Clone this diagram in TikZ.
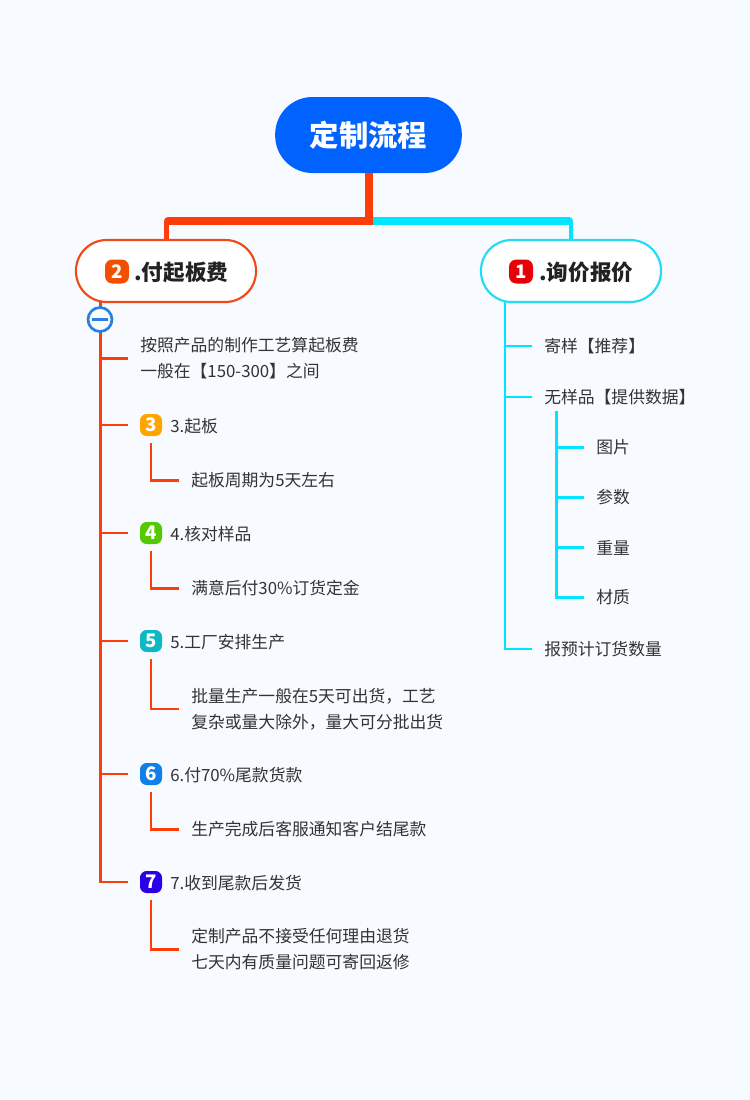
\documentclass[tikz,border=0pt]{standalone}
\usepackage{fontspec}
\setmainfont{Noto Sans CJK SC}
\definecolor{bgc}{HTML}{F7FBFF}
\definecolor{orc}{HTML}{FF3D0A}
\definecolor{oredge}{HTML}{F0481A}
\definecolor{cyc}{HTML}{00E5FF}
\definecolor{cyedge}{HTML}{1FDDF2}
\definecolor{rootc}{HTML}{0062FF}
\definecolor{txt}{HTML}{333333}
\definecolor{hd}{HTML}{222222}
\definecolor{colc}{HTML}{2B7FE0}
\definecolor{ba}{HTML}{E80008}
\definecolor{bb}{HTML}{F25000}
\definecolor{bc}{HTML}{FFA500}
\definecolor{bd}{HTML}{54C800}
\definecolor{be}{HTML}{0CB8C4}
\definecolor{bf}{HTML}{1080E8}
\definecolor{bg}{HTML}{2A00E8}
\tikzset{
  rootnode/.style={rectangle,rounded corners=28pt,minimum width=140pt,minimum height=57pt,fill=rootc,text=white,inner sep=0pt,font=\fontsize{22}{26}\selectfont\bfseries},
  mainnode/.style={rectangle,rounded corners=23pt,minimum width=135pt,minimum height=46.5pt,fill=white,draw=#1,line width=1.6pt,inner sep=0pt},
  hdtext/.style={anchor=west,inner sep=0pt,text=hd,font=\fontsize{16.2}{20}\selectfont\bfseries},
  badge/.style={rectangle,rounded corners=5pt,fill=#1,text=white,minimum size=16.5pt,inner sep=0pt,outer xsep=9pt,outer ysep=5.5pt,font=\fontsize{14}{16}\selectfont\bfseries},
  bigbadge/.style={rectangle,rounded corners=5.5pt,fill=#1,text=white,minimum size=18pt,inner sep=0pt,font=\fontsize{14}{16}\selectfont\bfseries},
  leaf/.style={anchor=west,inner ysep=0pt,inner xsep=9pt,align=left,text=txt,font=\fontsize{12.6}{19.5}\selectfont},
  sublabel/.style={anchor=west,inner sep=0pt,text=txt,font=\fontsize{12.6}{19.5}\selectfont},
  orline/.style={draw=orc,line width=2.1pt},
  cyline/.style={draw=cyc,line width=2.1pt},
  collapse/.style={circle,draw=colc,line width=2pt,fill=bgc,minimum size=18pt,inner sep=0pt}
}
\begin{document}
\begin{tikzpicture}[x=0.75pt,y=-0.75pt]
\fill[bgc] (0,0) rectangle (750,1100);
\useasboundingbox (0,0) rectangle (750,1100);
% main nodes
\node[rootnode] (root) at (368.5,135) {定制流程};
\coordinate (jun) at (369,221);
\coordinate (lt) at (100.5,302);
\coordinate (rt) at (505,302);
\coordinate (st) at (556.5,411);
% leaves left
\node[leaf] (l0) at (128,358.5) {按照产品的制作工艺算起板费\\一般在【150-300】之间};
\node[badge=bc] (b3) at (151,425) {3};
\node[badge=bd] (b4) at (151,533) {4};
\node[badge=be] (b5) at (151,641) {5};
\node[badge=bf] (b6) at (151,774) {6};
\node[badge=bg] (b7) at (151,882) {7};
\node[sublabel] (t3) at (170,426) {3.起板};
\node[sublabel] (t4) at (170,534) {4.核对样品};
\node[sublabel] (t5) at (170,642) {5.工厂安排生产};
\node[sublabel] (t6) at (170,775) {6.付70\%尾款货款};
\node[sublabel] (t7) at (170,883) {7.收到尾款后发货};
\node[leaf] (l3) at (179,480.5) {起板周期为5天左右};
\node[leaf] (l4) at (179,588.5) {满意后付30\%订货定金};
\node[leaf] (l5) at (179,709) {批量生产一般在5天可出货，工艺\\复杂或量大除外，量大可分批出货};
\node[leaf] (l6) at (179,829.5) {生产完成后客服通知客户结尾款};
\node[leaf] (l7) at (179,949.5) {定制产品不接受任何理由退货\\七天内有质量问题可寄回返修};
% leaves right
\node[leaf] (r1) at (532,346) {寄样【推荐】};
\node[leaf] (r2) at (532,397) {无样品【提供数据】};
\node[leaf] (r3) at (532,649) {报预计订货数量};
\node[leaf] (s1) at (584,447.5) {图片};
\node[leaf] (s2) at (584,497.5) {参数};
\node[leaf] (s3) at (584,547.5) {重量};
\node[leaf] (s4) at (584,597.5) {材质};
% connectors to main nodes
\path (166,271) coordinate (c2) (571,271) coordinate (c1);
\draw[cyc,line width=6pt,line cap=round] (jun) -- (569,221);
\draw[orc,line width=6pt,line cap=round] (jun) -- (168,221);
\draw[orc,line width=3.8pt] (jun -| c2) ++(0.5,0) -- (166.5,245);
\draw[cyc,line width=3pt] (571,221) -- (571,245);
\draw[orc,line width=6pt] (root.south -| jun) -- (369,225);
% main boxes
\node[mainnode=oredge] (n2) at (c2) {};
\node[mainnode=cyedge] (n1) at (c1) {};
\node[bigbadge=bb] (b2) at (117,271.5) {2};
\node[bigbadge=ba] (b1) at (521,271.5) {1};
\node[hdtext] (h2) at (134,272.5) {.付起板费};
\node[hdtext] (h1) at (539,272.5) {.询价报价};
% left trunk
\draw[orline] (lt) |- (b7.west);
\draw[orline] (l0.west -| lt) -- (l0.west);
\foreach \b in {b3,b4,b5,b6} \draw[orline] (\b.west -| lt) -- (\b.west);
% elbows
\draw[orline] (b3.south) |- (l3.west);
\draw[orline] (b4.south) |- (l4.west);
\draw[orline] (b5.south) |- (l5.west);
\draw[orline] (b6.south) |- (l6.west);
\draw[orline] (b7.south) |- (l7.west);
% collapse control
\node[collapse] (col) at (100,319.5) {};
\draw[colc,line width=1.6pt] ([xshift=-6pt]col.center) -- ([xshift=6pt]col.center);
% right trunk
\draw[cyline] (rt) |- (r3.west);
\draw[cyline] (r1.west -| rt) -- (r1.west);
\draw[cyline] (r2.west -| rt) -- (r2.west);
\draw[cyline] (st) |- (s4.west);
\foreach \s in {s1,s2,s3} \draw[cyline] (\s.west -| st) -- (\s.west);
\end{tikzpicture}
\end{document}
